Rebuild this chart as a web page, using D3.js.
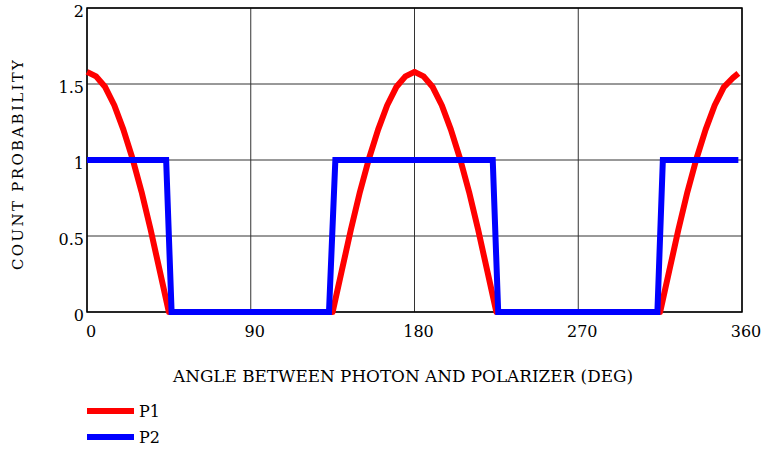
<!DOCTYPE html>
<html>
<head>
<meta charset="utf-8">
<script src="https://cdn.jsdelivr.net/npm/d3@7"></script>
<style>
  body { margin: 0; background: #fff; }
</style>
</head>
<body>
<svg id="chart" width="764" height="449" font-family="'DejaVu Serif', serif"></svg>
<script>
// angle in degrees, count probability
const p1Angles = [0, 5, 10, 15, 20, 25, 30, 35, 40, 45,
                  135, 140, 145, 150, 155, 160, 165, 170, 175, 180,
                  185, 190, 195, 200, 205, 210, 215, 220, 225,
                  315, 320, 325, 330, 335, 340, 345, 350, 355, 358];
const p1Values = [1.58, 1.55, 1.48, 1.36, 1.20, 1.01, 0.79, 0.54, 0.27, 0,
                  0, 0.27, 0.54, 0.79, 1.01, 1.20, 1.36, 1.48, 1.55, 1.58,
                  1.55, 1.48, 1.36, 1.20, 1.01, 0.79, 0.54, 0.27, 0,
                  0, 0.27, 0.54, 0.79, 1.01, 1.20, 1.36, 1.48, 1.54, 1.57];

const p2Angles = [0, 43.5, 46.5, 133, 136.5, 223, 226, 313.5, 316.5, 358];
const p2Values = [1, 1, 0, 0, 1, 1, 0, 0, 1, 1];

const xTicks = [0, 90, 180, 270, 360];
const yTicks = [0, 0.5, 1, 1.5, 2];
const seriesNames = ["P1", "P2"];
const seriesColors = ["#ff0000", "#0000ff"];

const svg = d3.select("#chart");
const margin = { left: 87, top: 8, right: 22, bottom: 137 };
const width = 764, height = 449;

const x = d3.scaleLinear().domain([0, 360]).range([margin.left, width - margin.right]);
const y = d3.scaleLinear().domain([0, 2]).range([height - margin.bottom, margin.top]);

// grid lines
svg.append("g")
    .selectAll("line")
    .data(yTicks)
    .join("line")
    .attr("x1", x(0)).attr("x2", x(360))
    .attr("y1", d => y(d)).attr("y2", d => y(d))
    .attr("stroke", "#333").attr("stroke-width", 1);

svg.append("g")
    .selectAll("line")
    .data(xTicks)
    .join("line")
    .attr("x1", d => x(d)).attr("x2", d => x(d))
    .attr("y1", y(0)).attr("y2", y(2))
    .attr("stroke", "#333").attr("stroke-width", 1);

// plot border
svg.append("rect")
    .attr("x", x(0)).attr("y", y(2))
    .attr("width", x(360) - x(0)).attr("height", y(0) - y(2))
    .attr("fill", "none").attr("stroke", "#000").attr("stroke-width", 1.5);

// tick labels
svg.append("g")
    .selectAll("text")
    .data(yTicks)
    .join("text")
    .attr("x", 84)
    .attr("y", d => y(d) + 9)
    .attr("text-anchor", "end")
    .attr("font-size", 16)
    .text(d => d);

svg.append("g")
    .selectAll("text")
    .data(xTicks)
    .join("text")
    .attr("x", d => x(d) + 4)
    .attr("y", 337)
    .attr("text-anchor", "middle")
    .attr("font-size", 16)
    .text(d => d);

// axis titles
svg.append("text")
    .attr("x", 173).attr("y", 382)
    .attr("font-size", 16)
    .attr("textLength", 460)
    .attr("lengthAdjust", "spacingAndGlyphs")
    .text("ANGLE BETWEEN PHOTON AND POLARIZER (DEG)");

svg.append("text")
    .attr("transform", "translate(23, 270) rotate(-90)")
    .attr("font-size", 15)
    .attr("textLength", 210)
    .attr("lengthAdjust", "spacing")
    .text("COUNT PROBABILITY");

// series
const line = d3.line().x(d => x(d[0])).y(d => y(d[1]));

svg.append("path")
    .datum(p1Angles.map((a, i) => [a, p1Values[i]]))
    .attr("fill", "none")
    .attr("stroke", seriesColors[0])
    .attr("stroke-width", 6)
    .attr("stroke-linejoin", "round")
    .attr("d", line);

svg.append("path")
    .datum(p2Angles.map((a, i) => [a, p2Values[i]]))
    .attr("fill", "none")
    .attr("stroke", seriesColors[1])
    .attr("stroke-width", 6)
    .attr("stroke-linejoin", "miter")
    .attr("d", line);

// legend
const legend = svg.append("g")
    .selectAll("g")
    .data(seriesNames)
    .join("g")
    .attr("transform", (d, i) => `translate(87, ${411 + i * 26})`);

legend.append("line")
    .attr("x1", 0).attr("x2", 47)
    .attr("stroke", (d, i) => seriesColors[i])
    .attr("stroke-width", 6);

legend.append("text")
    .attr("x", 52).attr("y", 6)
    .attr("font-size", 16)
    .text(d => d);
</script>
</body>
</html>
